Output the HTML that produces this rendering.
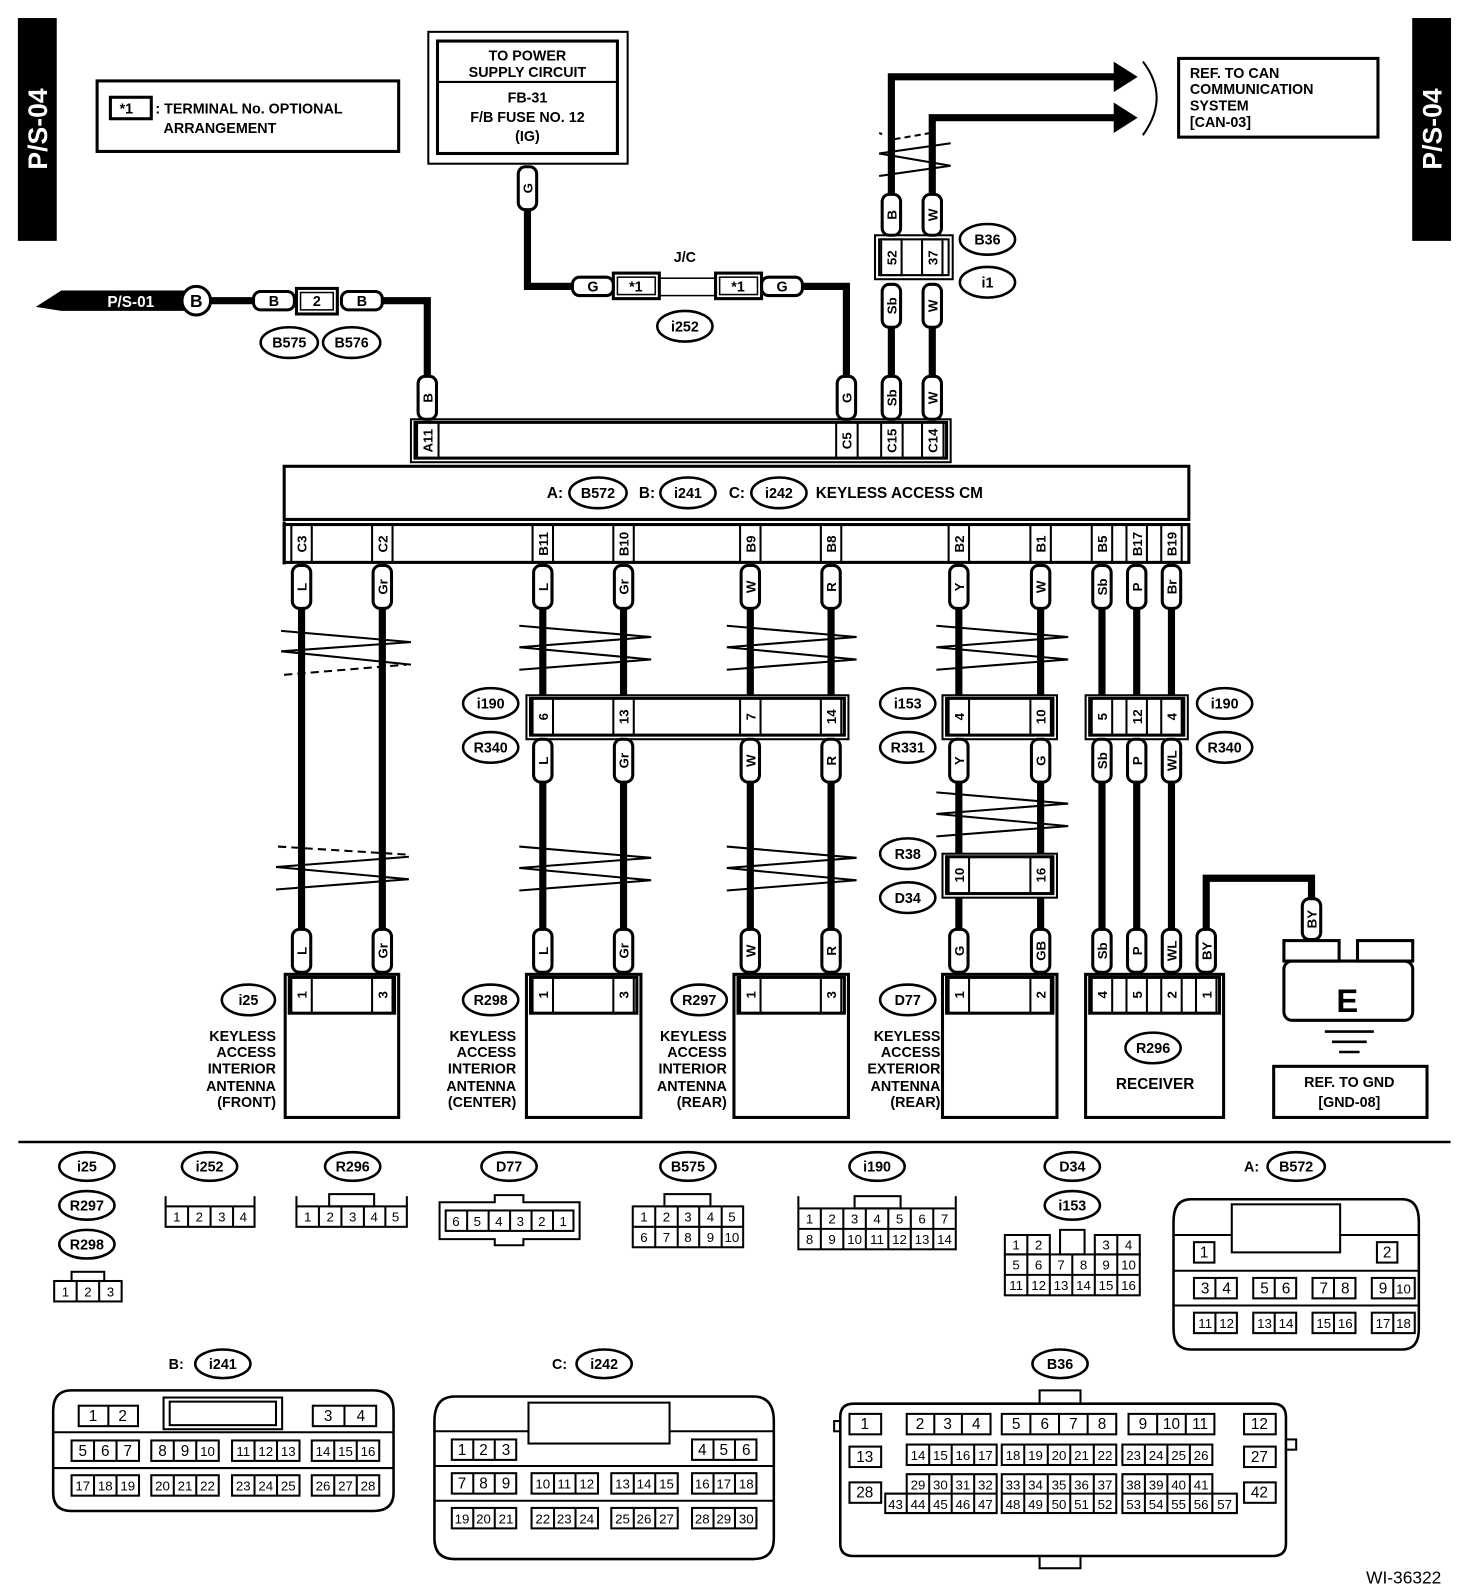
<!DOCTYPE html>
<html><head><meta charset="utf-8"><style>
html,body{margin:0;padding:0;background:#fff}
svg{display:block}
text{font-family:"Liberation Sans",Arial,sans-serif;fill:#000}
.b{font-weight:bold}
.t{font-weight:bold;font-size:14px}
.n{font-size:13px}
</style></head><body>
<svg width="1472" height="1596" viewBox="0 0 1440 1561" xmlns="http://www.w3.org/2000/svg">
<g fill="none" stroke="#000">
<!-- side bars -->
<rect x="18" y="18" width="37" height="217" fill="#000"/>
<rect x="1382" y="18" width="37" height="217" fill="#000"/>
</g>
<text class="b" font-size="26" transform="translate(46,126) rotate(-90)" text-anchor="middle" style="fill:#fff">P/S-04</text>
<text class="b" font-size="26" transform="translate(1410,126) rotate(-90)" text-anchor="middle" style="fill:#fff">P/S-04</text>

<g fill="none" stroke="#000">
<!-- legend -->
<rect x="95" y="79" width="295" height="69" stroke-width="3"/>
<rect x="108" y="95" width="40" height="21" stroke-width="3"/>
<!-- power box -->
<rect x="419" y="31" width="195" height="129" stroke-width="2"/>
<rect x="428" y="40" width="176" height="110" stroke-width="3"/>
<line x1="428" y1="80" x2="604" y2="80" stroke-width="2"/>
<!-- CAN box -->
<rect x="1153" y="57" width="195" height="77" stroke-width="3"/>
<path d="M1118,60 Q1145,95 1118,132" stroke-width="2"/>
<!-- wires -->
<g stroke-width="7" stroke-linejoin="miter">
<polyline points="516,200 516,280 562,280"/>
<polyline points="784,280 828,280 828,372"/>
<polyline points="205,294 250,294"/>
<polyline points="374,294 418,294 418,372"/>
<polyline points="872,192 872,75 1092,75"/>
<polyline points="912,192 912,115 1092,115"/>
<line x1="872" y1="318" x2="872" y2="372"/>
<line x1="912" y1="318" x2="912" y2="372"/>
<line x1="295" y1="592" x2="295" y2="912"/>
<line x1="374" y1="592" x2="374" y2="912"/>
<line x1="531" y1="592" x2="531" y2="682"/><line x1="531" y1="762" x2="531" y2="912"/>
<line x1="610" y1="592" x2="610" y2="682"/><line x1="610" y1="762" x2="610" y2="912"/>
<line x1="734" y1="592" x2="734" y2="682"/><line x1="734" y1="762" x2="734" y2="912"/>
<line x1="813" y1="592" x2="813" y2="682"/><line x1="813" y1="762" x2="813" y2="912"/>
<line x1="938" y1="592" x2="938" y2="682"/><line x1="938" y1="762" x2="938" y2="837"/><line x1="938" y1="875" x2="938" y2="912"/>
<line x1="1018" y1="592" x2="1018" y2="682"/><line x1="1018" y1="762" x2="1018" y2="837"/><line x1="1018" y1="875" x2="1018" y2="912"/>
<line x1="1078" y1="592" x2="1078" y2="682"/><line x1="1078" y1="762" x2="1078" y2="912"/>
<line x1="1112" y1="592" x2="1112" y2="682"/><line x1="1112" y1="762" x2="1112" y2="912"/>
<line x1="1146" y1="592" x2="1146" y2="682"/><line x1="1146" y1="762" x2="1146" y2="912"/>
<polyline points="1180,912 1180,859 1283,859 1283,882"/>
</g>
<polygon points="1090,61 1112,75 1090,89" fill="#000"/>
<polygon points="1090,101 1112,115 1090,129" fill="#000"/>
<!-- P/S-01 arrow -->
<polygon points="35,300 60,284 180,284 180,304 60,304" fill="#000" stroke="none"/>
<circle cx="192" cy="294" r="14" stroke-width="3" fill="#fff"/>
<!-- twists -->
<g stroke-width="2">
<path d="M860,150 L930,140 M860,150 L930,162 M860,172 L930,162"/>
<path d="M860,130 L863,131 M875,136 L910,130" stroke-dasharray="6,4"/>
<path d="M275,617 L402,628 M275,637 L402,628 M275,637 L402,650"/>
<path d="M278,660 L398,650" stroke-dasharray="8,5"/>
<path d="M270,848 L400,838 M270,848 L400,860 M270,870 L400,860"/>
<path d="M272,828 L400,836" stroke-dasharray="8,5"/>
<path d="M508,612 L637,623 M508,633 L637,623 M508,633 L637,645 M508,655 L637,645"/>
<path d="M711,612 L838,623 M711,633 L838,623 M711,633 L838,645 M711,655 L838,645"/>
<path d="M916,612 L1045,623 M916,633 L1045,623 M916,633 L1045,645 M916,655 L1045,645"/>
<path d="M508,828 L637,839 M508,849 L637,839 M508,849 L637,861 M508,871 L637,861"/>
<path d="M711,828 L838,839 M711,849 L838,839 M711,849 L838,861 M711,871 L838,861"/>
<path d="M916,775 L1045,786 M916,796 L1045,786 M916,796 L1045,808 M916,818 L1045,808"/>
</g>
<!-- J/C & small connectors -->
<rect x="600" y="267" width="45" height="25" stroke-width="3" fill="#fff"/>
<rect x="604" y="271" width="37" height="17" stroke-width="1.5"/>
<rect x="645" y="272" width="55" height="17" stroke-width="1.5"/>
<rect x="700" y="267" width="45" height="25" stroke-width="3" fill="#fff"/>
<rect x="704" y="271" width="37" height="17" stroke-width="1.5"/>
<rect x="290" y="282" width="40" height="25" stroke-width="3" fill="#fff"/>
<rect x="294" y="286" width="32" height="17" stroke-width="1.5"/>
<!-- B36 connector -->
<rect x="856" y="230" width="76" height="43" stroke-width="2" fill="#fff"/>
<rect x="860" y="234" width="68" height="35" stroke-width="2"/>
<rect x="862" y="234" width="20" height="35" stroke-width="2"/>
<rect x="902" y="234" width="20" height="35" stroke-width="2"/>
<!-- top strip -->
<rect x="402" y="410" width="528" height="42" stroke-width="2" fill="#fff"/>
<rect x="406" y="413" width="520" height="35" stroke-width="3"/>
<rect x="408" y="413" width="21" height="35" stroke-width="2"/>
<rect x="818" y="413" width="21" height="35" stroke-width="2"/>
<rect x="862" y="413" width="21" height="35" stroke-width="2"/>
<rect x="902" y="413" width="21" height="35" stroke-width="2"/>
<!-- CM box -->
<rect x="278" y="456" width="885" height="52" stroke-width="3" fill="#fff"/>
<rect x="278" y="513" width="885" height="37" stroke-width="3" fill="#fff"/>
<line x1="278" y1="510" x2="278" y2="552" stroke-width="3"/>
<g stroke-width="2">
<rect x="285" y="513" width="20" height="37"/><rect x="364" y="513" width="20" height="37"/>
<rect x="521" y="513" width="20" height="37"/><rect x="600" y="513" width="20" height="37"/>
<rect x="724" y="513" width="20" height="37"/><rect x="803" y="513" width="20" height="37"/>
<rect x="928" y="513" width="20" height="37"/><rect x="1008" y="513" width="20" height="37"/>
<rect x="1068" y="513" width="20" height="37"/><rect x="1102" y="513" width="20" height="37"/><rect x="1136" y="513" width="20" height="37"/>
</g>
<!-- mid connectors -->
<rect x="515" y="680" width="315" height="43" stroke-width="2" fill="#fff"/>
<rect x="519" y="683" width="307" height="36" stroke-width="3"/>
<rect x="922" y="680" width="112" height="43" stroke-width="2" fill="#fff"/>
<rect x="926" y="683" width="104" height="36" stroke-width="3"/>
<rect x="1062" y="680" width="100" height="43" stroke-width="2" fill="#fff"/>
<rect x="1066" y="683" width="92" height="36" stroke-width="3"/>
<rect x="922" y="835" width="112" height="43" stroke-width="2" fill="#fff"/>
<rect x="926" y="838" width="104" height="36" stroke-width="3"/>
<g stroke-width="2">
<rect x="521" y="683" width="20" height="36"/><rect x="600" y="683" width="20" height="36"/><rect x="724" y="683" width="20" height="36"/><rect x="803" y="683" width="20" height="36"/>
<rect x="928" y="683" width="20" height="36"/><rect x="1008" y="683" width="20" height="36"/>
<rect x="1068" y="683" width="20" height="36"/><rect x="1102" y="683" width="20" height="36"/><rect x="1136" y="683" width="20" height="36"/>
<rect x="928" y="838" width="20" height="36"/><rect x="1008" y="838" width="20" height="36"/>
</g>
<!-- devices -->
<g stroke-width="3" fill="#fff">
<rect x="279" y="953" width="111" height="140"/><rect x="515" y="953" width="112" height="140"/>
<rect x="718" y="953" width="112" height="140"/><rect x="922" y="953" width="112" height="140"/>
<rect x="1062" y="953" width="135" height="140"/>
</g>
<g stroke-width="3">
<rect x="283" y="956" width="103" height="35"/><rect x="519" y="956" width="104" height="35"/>
<rect x="722" y="956" width="104" height="35"/><rect x="926" y="956" width="104" height="35"/>
<rect x="1066" y="956" width="127" height="35"/>
</g>
<g stroke-width="2">
<rect x="285" y="956" width="20" height="35"/><rect x="364" y="956" width="20" height="35"/>
<rect x="521" y="956" width="20" height="35"/><rect x="600" y="956" width="20" height="35"/>
<rect x="724" y="956" width="20" height="35"/><rect x="803" y="956" width="20" height="35"/>
<rect x="928" y="956" width="20" height="35"/><rect x="1008" y="956" width="20" height="35"/>
<rect x="1068" y="956" width="20" height="35"/><rect x="1102" y="956" width="20" height="35"/><rect x="1136" y="956" width="20" height="35"/><rect x="1170" y="956" width="20" height="35"/>
</g>
<!-- ground -->
<rect x="1256" y="920" width="54" height="20" stroke-width="3"/>
<rect x="1328" y="920" width="54" height="20" stroke-width="3"/>
<rect x="1256" y="940" width="126" height="58" rx="8" stroke-width="3"/>
<g stroke-width="2.5"><line x1="1296" y1="1009" x2="1344" y2="1009"/><line x1="1303" y1="1019" x2="1337" y2="1019"/><line x1="1310" y1="1029" x2="1330" y2="1029"/></g>
<rect x="1246" y="1043" width="150" height="50" stroke-width="3"/>
<line x1="18" y1="1117" x2="1419" y2="1117" stroke-width="2.5"/>

<!-- pills vertical -->
<g stroke-width="3" fill="#fff">
<rect x="507" y="163" width="18" height="42" rx="7"/>
<rect x="863" y="190" width="18" height="40" rx="7"/><rect x="903" y="190" width="18" height="40" rx="7"/>
<rect x="863" y="278" width="18" height="42" rx="7"/><rect x="903" y="278" width="18" height="42" rx="7"/>
<rect x="409" y="368" width="18" height="42" rx="7"/><rect x="819" y="368" width="18" height="42" rx="7"/>
<rect x="863" y="368" width="18" height="42" rx="7"/><rect x="903" y="368" width="18" height="42" rx="7"/>
<!-- under CM -->
<rect x="286" y="553" width="18" height="42" rx="7"/><rect x="365" y="553" width="18" height="42" rx="7"/>
<rect x="522" y="553" width="18" height="42" rx="7"/><rect x="601" y="553" width="18" height="42" rx="7"/>
<rect x="725" y="553" width="18" height="42" rx="7"/><rect x="804" y="553" width="18" height="42" rx="7"/>
<rect x="929" y="553" width="18" height="42" rx="7"/><rect x="1009" y="553" width="18" height="42" rx="7"/>
<rect x="1069" y="553" width="18" height="42" rx="7"/><rect x="1103" y="553" width="18" height="42" rx="7"/><rect x="1137" y="553" width="18" height="42" rx="7"/>
<!-- under mid -->
<rect x="522" y="723" width="18" height="42" rx="7"/><rect x="601" y="723" width="18" height="42" rx="7"/>
<rect x="725" y="723" width="18" height="42" rx="7"/><rect x="804" y="723" width="18" height="42" rx="7"/>
<rect x="929" y="723" width="18" height="42" rx="7"/><rect x="1009" y="723" width="18" height="42" rx="7"/>
<rect x="1069" y="723" width="18" height="42" rx="7"/><rect x="1103" y="723" width="18" height="42" rx="7"/><rect x="1137" y="723" width="18" height="42" rx="7"/>
<!-- bottom -->
<rect x="286" y="909" width="18" height="42" rx="7"/><rect x="365" y="909" width="18" height="42" rx="7"/>
<rect x="522" y="909" width="18" height="42" rx="7"/><rect x="601" y="909" width="18" height="42" rx="7"/>
<rect x="725" y="909" width="18" height="42" rx="7"/><rect x="804" y="909" width="18" height="42" rx="7"/>
<rect x="929" y="909" width="18" height="42" rx="7"/><rect x="1009" y="909" width="18" height="42" rx="7"/>
<rect x="1069" y="909" width="18" height="42" rx="7"/><rect x="1103" y="909" width="18" height="42" rx="7"/><rect x="1137" y="909" width="18" height="42" rx="7"/><rect x="1171" y="909" width="18" height="42" rx="7"/>
<rect x="1274" y="879" width="18" height="40" rx="7"/>
<!-- horizontal pills -->
<rect x="560" y="271" width="40" height="18" rx="7"/><rect x="745" y="271" width="40" height="18" rx="7"/>
<rect x="248" y="285" width="40" height="18" rx="7"/><rect x="334" y="285" width="40" height="18" rx="7"/>
</g>
<!-- ovals -->
<g stroke-width="2.5" fill="#fff">
<ellipse cx="670" cy="319" rx="27" ry="15"/>
<ellipse cx="283" cy="335" rx="28" ry="15"/><ellipse cx="344" cy="335" rx="28" ry="15"/>
<ellipse cx="966" cy="234" rx="27" ry="15"/><ellipse cx="966" cy="276" rx="27" ry="15"/>
<ellipse cx="585" cy="482" rx="28" ry="15"/><ellipse cx="673" cy="482" rx="27" ry="15"/><ellipse cx="762" cy="482" rx="27" ry="15"/>
<ellipse cx="480" cy="688" rx="27" ry="15"/><ellipse cx="480" cy="731" rx="27" ry="15"/>
<ellipse cx="888" cy="688" rx="27" ry="15"/><ellipse cx="888" cy="731" rx="27" ry="15"/>
<ellipse cx="1198" cy="688" rx="27" ry="15"/><ellipse cx="1198" cy="731" rx="27" ry="15"/>
<ellipse cx="888" cy="835" rx="27" ry="15"/><ellipse cx="888" cy="878" rx="27" ry="15"/>
<ellipse cx="243" cy="978" rx="26" ry="15"/><ellipse cx="480" cy="978" rx="27" ry="15"/>
<ellipse cx="684" cy="978" rx="27" ry="15"/><ellipse cx="888" cy="978" rx="27" ry="15"/>
<ellipse cx="1128" cy="1025" rx="27" ry="15"/>
<!-- bottom ovals -->
<ellipse cx="85" cy="1141" rx="27" ry="14"/><ellipse cx="85" cy="1179" rx="27" ry="14"/><ellipse cx="85" cy="1217" rx="27" ry="14"/>
<ellipse cx="205" cy="1141" rx="27" ry="14"/><ellipse cx="345" cy="1141" rx="27" ry="14"/>
<ellipse cx="498" cy="1141" rx="27" ry="14"/><ellipse cx="673" cy="1141" rx="27" ry="14"/>
<ellipse cx="858" cy="1141" rx="27" ry="14"/><ellipse cx="1049" cy="1141" rx="27" ry="14"/><ellipse cx="1049" cy="1179" rx="27" ry="14"/>
<ellipse cx="1268" cy="1141" rx="28" ry="14"/>
<ellipse cx="218" cy="1334" rx="27" ry="14"/><ellipse cx="591" cy="1334" rx="27" ry="14"/><ellipse cx="1037" cy="1334" rx="27" ry="14"/>
</g>
</g>

<!-- top texts -->
<text class="t" x="117" y="111">*1</text>
<text class="t" x="152" y="111">: TERMINAL No. OPTIONAL</text>
<text class="t" x="160" y="130">ARRANGEMENT</text>
<g class="t" text-anchor="middle">
<text x="516" y="59">TO POWER</text><text x="516" y="75">SUPPLY CIRCUIT</text>
<text x="516" y="100">FB-31</text><text x="516" y="119">F/B FUSE NO. 12</text><text x="516" y="138">(IG)</text>
<text x="670" y="256">J/C</text>
<text x="580" y="285">G</text><text x="765" y="285">G</text>
<text x="622" y="285">*1</text><text x="722" y="285">*1</text>
<text x="268" y="299">B</text><text x="310" y="299">2</text><text x="354" y="299">B</text>
<text x="192" y="300" font-size="17">B</text>
<text x="670" y="324">i252</text>
<text x="283" y="340">B575</text><text x="344" y="340">B576</text>
<text x="966" y="239">B36</text><text x="966" y="281">i1</text>
<text x="585" y="487">B572</text><text x="673" y="487">i241</text><text x="762" y="487">i242</text>
<text x="480" y="693">i190</text><text x="480" y="736">R340</text>
<text x="888" y="693">i153</text><text x="888" y="736">R331</text>
<text x="1198" y="693">i190</text><text x="1198" y="736">R340</text>
<text x="888" y="840">R38</text><text x="888" y="883">D34</text>
<text x="243" y="983">i25</text><text x="480" y="983">R298</text><text x="684" y="983">R297</text><text x="888" y="983">D77</text>
<text x="1128" y="1030">R296</text>
<text x="1130" y="1065" font-size="15">RECEIVER</text>
<text x="1320" y="1063">REF. TO GND</text><text x="1320" y="1083">[GND-08]</text>
<text x="1318" y="990" font-size="32">E</text>
</g>
<text class="b" x="105" y="300" font-size="15" style="fill:#fff">P/S-01</text>
<g class="t"><text x="1164" y="76">REF. TO CAN</text><text x="1164" y="92">COMMUNICATION</text><text x="1164" y="108">SYSTEM</text><text x="1164" y="124">[CAN-03]</text></g>
<g class="b" font-size="15"><text x="535" y="487">A:</text><text x="625" y="487">B:</text><text x="713" y="487">C:</text><text x="798" y="487">KEYLESS ACCESS CM</text></g>
<g class="t" text-anchor="end">
<text x="270" y="1018">KEYLESS</text><text x="270" y="1034">ACCESS</text><text x="270" y="1050">INTERIOR</text><text x="270" y="1067">ANTENNA</text><text x="270" y="1083">(FRONT)</text>
<text x="505" y="1018">KEYLESS</text><text x="505" y="1034">ACCESS</text><text x="505" y="1050">INTERIOR</text><text x="505" y="1067">ANTENNA</text><text x="505" y="1083">(CENTER)</text>
<text x="711" y="1018">KEYLESS</text><text x="711" y="1034">ACCESS</text><text x="711" y="1050">INTERIOR</text><text x="711" y="1067">ANTENNA</text><text x="711" y="1083">(REAR)</text>
<text x="920" y="1018">KEYLESS</text><text x="920" y="1034">ACCESS</text><text x="920" y="1050">EXTERIOR</text><text x="920" y="1067">ANTENNA</text><text x="920" y="1083">(REAR)</text>
</g>
<!-- rotated labels -->
<g class="b" font-size="13" text-anchor="middle">
<text transform="translate(521,184) rotate(-90)">G</text>
<text transform="translate(877,210) rotate(-90)">B</text><text transform="translate(917,210) rotate(-90)">W</text>
<text transform="translate(877,252) rotate(-90)">52</text><text transform="translate(917,252) rotate(-90)">37</text>
<text transform="translate(877,299) rotate(-90)">Sb</text><text transform="translate(917,299) rotate(-90)">W</text>
<text transform="translate(423,389) rotate(-90)">B</text><text transform="translate(833,389) rotate(-90)">G</text>
<text transform="translate(877,389) rotate(-90)">Sb</text><text transform="translate(917,389) rotate(-90)">W</text>
<text transform="translate(423,431) rotate(-90)">A11</text><text transform="translate(833,431) rotate(-90)">C5</text>
<text transform="translate(877,431) rotate(-90)">C15</text><text transform="translate(917,431) rotate(-90)">C14</text>
<text transform="translate(300,532) rotate(-90)">C3</text><text transform="translate(379,532) rotate(-90)">C2</text>
<text transform="translate(536,532) rotate(-90)">B11</text><text transform="translate(615,532) rotate(-90)">B10</text>
<text transform="translate(739,532) rotate(-90)">B9</text><text transform="translate(818,532) rotate(-90)">B8</text>
<text transform="translate(943,532) rotate(-90)">B2</text><text transform="translate(1023,532) rotate(-90)">B1</text>
<text transform="translate(1083,532) rotate(-90)">B5</text><text transform="translate(1117,532) rotate(-90)">B17</text><text transform="translate(1151,532) rotate(-90)">B19</text>
<text transform="translate(300,574) rotate(-90)">L</text><text transform="translate(379,574) rotate(-90)">Gr</text>
<text transform="translate(536,574) rotate(-90)">L</text><text transform="translate(615,574) rotate(-90)">Gr</text>
<text transform="translate(739,574) rotate(-90)">W</text><text transform="translate(818,574) rotate(-90)">R</text>
<text transform="translate(943,574) rotate(-90)">Y</text><text transform="translate(1023,574) rotate(-90)">W</text>
<text transform="translate(1083,574) rotate(-90)">Sb</text><text transform="translate(1117,574) rotate(-90)">P</text><text transform="translate(1151,574) rotate(-90)">Br</text>
<text transform="translate(536,701) rotate(-90)">6</text><text transform="translate(615,701) rotate(-90)">13</text>
<text transform="translate(739,701) rotate(-90)">7</text><text transform="translate(818,701) rotate(-90)">14</text>
<text transform="translate(943,701) rotate(-90)">4</text><text transform="translate(1023,701) rotate(-90)">10</text>
<text transform="translate(1083,701) rotate(-90)">5</text><text transform="translate(1117,701) rotate(-90)">12</text><text transform="translate(1151,701) rotate(-90)">4</text>
<text transform="translate(536,744) rotate(-90)">L</text><text transform="translate(615,744) rotate(-90)">Gr</text>
<text transform="translate(739,744) rotate(-90)">W</text><text transform="translate(818,744) rotate(-90)">R</text>
<text transform="translate(943,744) rotate(-90)">Y</text><text transform="translate(1023,744) rotate(-90)">G</text>
<text transform="translate(1083,744) rotate(-90)">Sb</text><text transform="translate(1117,744) rotate(-90)">P</text><text transform="translate(1151,744) rotate(-90)">WL</text>
<text transform="translate(943,856) rotate(-90)">10</text><text transform="translate(1023,856) rotate(-90)">16</text>
<text transform="translate(300,930) rotate(-90)">L</text><text transform="translate(379,930) rotate(-90)">Gr</text>
<text transform="translate(536,930) rotate(-90)">L</text><text transform="translate(615,930) rotate(-90)">Gr</text>
<text transform="translate(739,930) rotate(-90)">W</text><text transform="translate(818,930) rotate(-90)">R</text>
<text transform="translate(943,930) rotate(-90)">G</text><text transform="translate(1023,930) rotate(-90)">GB</text>
<text transform="translate(1083,930) rotate(-90)">Sb</text><text transform="translate(1117,930) rotate(-90)">P</text><text transform="translate(1151,930) rotate(-90)">WL</text><text transform="translate(1185,930) rotate(-90)">BY</text>
<text transform="translate(1288,899) rotate(-90)">BY</text>
<text transform="translate(300,973) rotate(-90)">1</text><text transform="translate(379,973) rotate(-90)">3</text>
<text transform="translate(536,973) rotate(-90)">1</text><text transform="translate(615,973) rotate(-90)">3</text>
<text transform="translate(739,973) rotate(-90)">1</text><text transform="translate(818,973) rotate(-90)">3</text>
<text transform="translate(943,973) rotate(-90)">1</text><text transform="translate(1023,973) rotate(-90)">2</text>
<text transform="translate(1083,973) rotate(-90)">4</text><text transform="translate(1117,973) rotate(-90)">5</text><text transform="translate(1151,973) rotate(-90)">2</text><text transform="translate(1185,973) rotate(-90)">1</text>
</g>

<!-- bottom connectors -->
<g class="t" text-anchor="middle">
<text x="85" y="1146">i25</text><text x="85" y="1184">R297</text><text x="85" y="1222">R298</text>
<text x="205" y="1146">i252</text><text x="345" y="1146">R296</text><text x="498" y="1146">D77</text>
<text x="673" y="1146">B575</text><text x="858" y="1146">i190</text><text x="1049" y="1146">D34</text><text x="1049" y="1184">i153</text>
<text x="1268" y="1146">B572</text><text x="218" y="1339">i241</text><text x="591" y="1339">i242</text><text x="1037" y="1339">B36</text>
</g>
<g class="t"><text x="1217" y="1146">A:</text><text x="165" y="1339">B:</text><text x="540" y="1339">C:</text></g>

<g fill="none" stroke="#000" stroke-width="2">
<!-- i25 -->
<rect x="70" y="1244" width="32" height="9"/>
<rect x="53" y="1253" width="66" height="20"/><line x1="75" y1="1253" x2="75" y2="1273"/><line x1="97" y1="1253" x2="97" y2="1273"/>
<!-- i252 -->
<rect x="162" y="1180" width="87" height="20"/><line x1="184" y1="1180" x2="184" y2="1200"/><line x1="206" y1="1180" x2="206" y2="1200"/><line x1="228" y1="1180" x2="228" y2="1200"/>
<line x1="162" y1="1170" x2="162" y2="1180"/><line x1="249" y1="1170" x2="249" y2="1180"/>
<!-- R296 -->
<rect x="290" y="1180" width="108" height="20"/><line x1="312" y1="1180" x2="312" y2="1200"/><line x1="334" y1="1180" x2="334" y2="1200"/><line x1="356" y1="1180" x2="356" y2="1200"/><line x1="377" y1="1180" x2="377" y2="1200"/>
<rect x="322" y="1168" width="44" height="12"/><line x1="290" y1="1170" x2="290" y2="1180"/><line x1="398" y1="1170" x2="398" y2="1180"/>
<!-- D77 -->
<path d="M430,1176 L484,1176 L484,1169 L512,1169 L512,1176 L567,1176 L567,1212 L512,1212 L512,1218 L484,1218 L484,1212 L430,1212 Z"/>
<rect x="436" y="1184" width="125" height="20"/><line x1="457" y1="1184" x2="457" y2="1204"/><line x1="478" y1="1184" x2="478" y2="1204"/><line x1="499" y1="1184" x2="499" y2="1204"/><line x1="520" y1="1184" x2="520" y2="1204"/><line x1="541" y1="1184" x2="541" y2="1204"/>
<!-- B575 -->
<rect x="650" y="1168" width="45" height="12"/>
<rect x="619" y="1180" width="108" height="40"/><line x1="619" y1="1200" x2="727" y2="1200"/>
<line x1="641" y1="1180" x2="641" y2="1220"/><line x1="663" y1="1180" x2="663" y2="1220"/><line x1="684" y1="1180" x2="684" y2="1220"/><line x1="706" y1="1180" x2="706" y2="1220"/>
<!-- i190 -->
<rect x="836" y="1170" width="45" height="12"/><line x1="781" y1="1170" x2="781" y2="1182"/><line x1="935" y1="1170" x2="935" y2="1182"/>
<rect x="781" y="1182" width="154" height="40"/><line x1="781" y1="1202" x2="935" y2="1202"/>
<line x1="803" y1="1182" x2="803" y2="1222"/><line x1="825" y1="1182" x2="825" y2="1222"/><line x1="847" y1="1182" x2="847" y2="1222"/><line x1="869" y1="1182" x2="869" y2="1222"/><line x1="891" y1="1182" x2="891" y2="1222"/><line x1="913" y1="1182" x2="913" y2="1222"/>
<!-- D34 -->
<path d="M983,1208 L1027,1208 L1027,1227 L983,1227 Z M1037,1203 L1061,1203 L1061,1227 L1037,1227 Z M1071,1208 L1115,1208 L1115,1227 L1071,1227 Z"/>
<line x1="1005" y1="1208" x2="1005" y2="1267"/><line x1="1093" y1="1208" x2="1093" y2="1267"/>
<rect x="983" y="1227" width="132" height="40"/><line x1="983" y1="1247" x2="1115" y2="1247"/>
<line x1="1027" y1="1227" x2="1027" y2="1267"/><line x1="1049" y1="1227" x2="1049" y2="1267"/><line x1="1071" y1="1227" x2="1071" y2="1267"/>
<!-- B572 -->
<path d="M1165,1173 L1372,1173 Q1388,1173 1388,1195 L1388,1300 Q1388,1320 1372,1320 L1165,1320 Q1148,1320 1148,1300 L1148,1195 Q1148,1173 1165,1173 Z" stroke-width="2.5"/>
<rect x="1205" y="1178" width="106" height="47"/>
<line x1="1148" y1="1208" x2="1205" y2="1208"/><line x1="1311" y1="1208" x2="1388" y2="1208"/>
<line x1="1148" y1="1243" x2="1388" y2="1243"/><line x1="1148" y1="1277" x2="1388" y2="1277"/>
<rect x="1168" y="1215" width="20" height="20"/><rect x="1347" y="1215" width="20" height="20"/>
<rect x="1168" y="1250" width="42" height="20"/><line x1="1189" y1="1250" x2="1189" y2="1270"/>
<rect x="1226" y="1250" width="42" height="20"/><line x1="1247" y1="1250" x2="1247" y2="1270"/>
<rect x="1284" y="1250" width="42" height="20"/><line x1="1305" y1="1250" x2="1305" y2="1270"/>
<rect x="1326" y="1250" width="42" height="20" transform="translate(16,0)"/><line x1="1363" y1="1250" x2="1363" y2="1270"/>
<rect x="1168" y="1284" width="42" height="20"/><line x1="1189" y1="1284" x2="1189" y2="1304"/>
<rect x="1226" y="1284" width="42" height="20"/><line x1="1247" y1="1284" x2="1247" y2="1304"/>
<rect x="1284" y="1284" width="42" height="20"/><line x1="1305" y1="1284" x2="1305" y2="1304"/>
<rect x="1342" y="1284" width="42" height="20"/><line x1="1363" y1="1284" x2="1363" y2="1304"/>
<!-- i241 -->
<path d="M70,1360 L365,1360 Q385,1360 385,1380 L385,1460 Q385,1478 365,1478 L70,1478 Q52,1478 52,1460 L52,1380 Q52,1360 70,1360 Z" stroke-width="2.5"/>
<rect x="160" y="1367" width="116" height="31"/><rect x="166" y="1371" width="104" height="23"/>
<line x1="52" y1="1401" x2="385" y2="1401"/><line x1="52" y1="1436" x2="385" y2="1436"/>
<rect x="77" y="1375" width="58" height="20"/><line x1="106" y1="1375" x2="106" y2="1395"/>
<rect x="306" y="1375" width="62" height="20"/><line x1="337" y1="1375" x2="337" y2="1395"/>
<rect x="70" y="1409" width="66" height="20"/><line x1="92" y1="1409" x2="92" y2="1429"/><line x1="114" y1="1409" x2="114" y2="1429"/>
<rect x="148" y="1409" width="66" height="20"/><line x1="170" y1="1409" x2="170" y2="1429"/><line x1="192" y1="1409" x2="192" y2="1429"/>
<rect x="227" y="1409" width="66" height="20"/><line x1="249" y1="1409" x2="249" y2="1429"/><line x1="271" y1="1409" x2="271" y2="1429"/>
<rect x="305" y="1409" width="66" height="20"/><line x1="327" y1="1409" x2="327" y2="1429"/><line x1="349" y1="1409" x2="349" y2="1429"/>
<rect x="70" y="1443" width="66" height="20"/><line x1="92" y1="1443" x2="92" y2="1463"/><line x1="114" y1="1443" x2="114" y2="1463"/>
<rect x="148" y="1443" width="66" height="20"/><line x1="170" y1="1443" x2="170" y2="1463"/><line x1="192" y1="1443" x2="192" y2="1463"/>
<rect x="227" y="1443" width="66" height="20"/><line x1="249" y1="1443" x2="249" y2="1463"/><line x1="271" y1="1443" x2="271" y2="1463"/>
<rect x="305" y="1443" width="66" height="20"/><line x1="327" y1="1443" x2="327" y2="1463"/><line x1="349" y1="1443" x2="349" y2="1463"/>
<!-- i242 -->
<path d="M445,1366 L737,1366 Q757,1366 757,1390 L757,1505 Q757,1525 737,1525 L445,1525 Q425,1525 425,1505 L425,1390 Q425,1366 445,1366 Z" stroke-width="2.5"/>
<rect x="517" y="1372" width="138" height="40"/>
<line x1="425" y1="1400" x2="517" y2="1400"/><line x1="655" y1="1400" x2="757" y2="1400"/>
<line x1="425" y1="1434" x2="757" y2="1434"/><line x1="425" y1="1468" x2="757" y2="1468"/>
<rect x="442" y="1408" width="63" height="20"/><line x1="463" y1="1408" x2="463" y2="1428"/><line x1="484" y1="1408" x2="484" y2="1428"/>
<rect x="677" y="1408" width="63" height="20"/><line x1="698" y1="1408" x2="698" y2="1428"/><line x1="719" y1="1408" x2="719" y2="1428"/>
<rect x="442" y="1441" width="63" height="20"/><line x1="463" y1="1441" x2="463" y2="1461"/><line x1="484" y1="1441" x2="484" y2="1461"/>
<rect x="520" y="1441" width="65" height="20"/><line x1="542" y1="1441" x2="542" y2="1461"/><line x1="563" y1="1441" x2="563" y2="1461"/>
<rect x="598" y="1441" width="65" height="20"/><line x1="620" y1="1441" x2="620" y2="1461"/><line x1="641" y1="1441" x2="641" y2="1461"/>
<rect x="677" y="1441" width="63" height="20"/><line x1="698" y1="1441" x2="698" y2="1461"/><line x1="719" y1="1441" x2="719" y2="1461"/>
<rect x="442" y="1475" width="63" height="20"/><line x1="463" y1="1475" x2="463" y2="1495"/><line x1="484" y1="1475" x2="484" y2="1495"/>
<rect x="520" y="1475" width="65" height="20"/><line x1="542" y1="1475" x2="542" y2="1495"/><line x1="563" y1="1475" x2="563" y2="1495"/>
<rect x="598" y="1475" width="65" height="20"/><line x1="620" y1="1475" x2="620" y2="1495"/><line x1="641" y1="1475" x2="641" y2="1495"/>
<rect x="677" y="1475" width="63" height="20"/><line x1="698" y1="1475" x2="698" y2="1495"/><line x1="719" y1="1475" x2="719" y2="1495"/>
<!-- B36 -->
<path d="M835,1373 L1245,1373 Q1258,1373 1258,1386 L1258,1510 Q1258,1522 1245,1522 L835,1522 Q822,1522 822,1510 L822,1386 Q822,1373 835,1373 Z" stroke-width="2.5"/>
<rect x="1017" y="1360" width="40" height="13"/><rect x="1017" y="1522" width="40" height="12"/>
<rect x="816" y="1390" width="6" height="10"/><rect x="1258" y="1408" width="10" height="10"/>
<rect x="831" y="1383" width="31" height="20"/><rect x="831" y="1415" width="31" height="20"/><rect x="831" y="1450" width="31" height="20"/>
<rect x="1217" y="1383" width="31" height="20"/><rect x="1217" y="1415" width="31" height="20"/><rect x="1217" y="1450" width="31" height="20"/>
<rect x="887" y="1383" width="82" height="20"/><line x1="914" y1="1383" x2="914" y2="1403"/><line x1="941" y1="1383" x2="941" y2="1403"/>
<rect x="980" y="1383" width="112" height="20"/><line x1="1008" y1="1383" x2="1008" y2="1403"/><line x1="1036" y1="1383" x2="1036" y2="1403"/><line x1="1064" y1="1383" x2="1064" y2="1403"/>
<rect x="1104" y="1383" width="84" height="20"/><line x1="1132" y1="1383" x2="1132" y2="1403"/><line x1="1160" y1="1383" x2="1160" y2="1403"/>
<rect x="887" y="1413" width="88" height="20"/><line x1="909" y1="1413" x2="909" y2="1433"/><line x1="931" y1="1413" x2="931" y2="1433"/><line x1="953" y1="1413" x2="953" y2="1433"/>
<rect x="980" y="1413" width="112" height="20"/><line x1="1002" y1="1413" x2="1002" y2="1433"/><line x1="1025" y1="1413" x2="1025" y2="1433"/><line x1="1047" y1="1413" x2="1047" y2="1433"/><line x1="1070" y1="1413" x2="1070" y2="1433"/>
<rect x="1098" y="1413" width="88" height="20"/><line x1="1120" y1="1413" x2="1120" y2="1433"/><line x1="1142" y1="1413" x2="1142" y2="1433"/><line x1="1164" y1="1413" x2="1164" y2="1433"/>
<path d="M887,1461 L887,1442 L975,1442 L975,1480 L866,1480 L866,1461 Z"/><line x1="866" y1="1461" x2="975" y2="1461"/>
<line x1="909" y1="1442" x2="909" y2="1480"/><line x1="931" y1="1442" x2="931" y2="1480"/><line x1="953" y1="1442" x2="953" y2="1480"/><line x1="887" y1="1461" x2="887" y2="1480"/>
<rect x="980" y="1442" width="112" height="38"/><line x1="980" y1="1461" x2="1092" y2="1461"/>
<line x1="1002" y1="1442" x2="1002" y2="1480"/><line x1="1025" y1="1442" x2="1025" y2="1480"/><line x1="1047" y1="1442" x2="1047" y2="1480"/><line x1="1070" y1="1442" x2="1070" y2="1480"/>
<path d="M1098,1442 L1186,1442 L1186,1461 L1210,1461 L1210,1480 L1098,1480 Z"/><line x1="1098" y1="1461" x2="1186" y2="1461"/>
<line x1="1120" y1="1442" x2="1120" y2="1480"/><line x1="1142" y1="1442" x2="1142" y2="1480"/><line x1="1164" y1="1442" x2="1164" y2="1480"/><line x1="1186" y1="1461" x2="1186" y2="1480"/>
</g>

<g class="n" text-anchor="middle">
<text x="64" y="1268">1</text><text x="86" y="1268">2</text><text x="108" y="1268">3</text>
<text x="173" y="1195">1</text><text x="195" y="1195">2</text><text x="217" y="1195">3</text><text x="238" y="1195">4</text>
<text x="301" y="1195">1</text><text x="323" y="1195">2</text><text x="345" y="1195">3</text><text x="366" y="1195">4</text><text x="387" y="1195">5</text>
<text x="446" y="1199">6</text><text x="467" y="1199">5</text><text x="488" y="1199">4</text><text x="509" y="1199">3</text><text x="530" y="1199">2</text><text x="551" y="1199">1</text>
<text x="630" y="1195">1</text><text x="652" y="1195">2</text><text x="673" y="1195">3</text><text x="695" y="1195">4</text><text x="716" y="1195">5</text>
<text x="630" y="1215">6</text><text x="652" y="1215">7</text><text x="673" y="1215">8</text><text x="695" y="1215">9</text><text x="716" y="1215">10</text>
<text x="792" y="1197">1</text><text x="814" y="1197">2</text><text x="836" y="1197">3</text><text x="858" y="1197">4</text><text x="880" y="1197">5</text><text x="902" y="1197">6</text><text x="924" y="1197">7</text>
<text x="792" y="1217">8</text><text x="814" y="1217">9</text><text x="836" y="1217">10</text><text x="858" y="1217">11</text><text x="880" y="1217">12</text><text x="902" y="1217">13</text><text x="924" y="1217">14</text>
<text x="994" y="1222">1</text><text x="1016" y="1222">2</text><text x="1082" y="1222">3</text><text x="1104" y="1222">4</text>
<text x="994" y="1242">5</text><text x="1016" y="1242">6</text><text x="1038" y="1242">7</text><text x="1060" y="1242">8</text><text x="1082" y="1242">9</text><text x="1104" y="1242">10</text>
<text x="994" y="1262">11</text><text x="1016" y="1262">12</text><text x="1038" y="1262">13</text><text x="1060" y="1262">14</text><text x="1082" y="1262">15</text><text x="1104" y="1262">16</text>
<text x="1178" y="1230" font-size="15">1</text><text x="1357" y="1230" font-size="15">2</text>
<text x="1179" y="1265" font-size="15">3</text><text x="1200" y="1265" font-size="15">4</text><text x="1237" y="1265" font-size="15">5</text><text x="1258" y="1265" font-size="15">6</text><text x="1295" y="1265" font-size="15">7</text><text x="1316" y="1265" font-size="15">8</text><text x="1353" y="1265" font-size="15">9</text><text x="1373" y="1265">10</text>
<text x="1179" y="1299">11</text><text x="1200" y="1299">12</text><text x="1237" y="1299">13</text><text x="1258" y="1299">14</text><text x="1295" y="1299">15</text><text x="1316" y="1299">16</text><text x="1353" y="1299">17</text><text x="1373" y="1299">18</text>
<text x="91" y="1390" font-size="15">1</text><text x="120" y="1390" font-size="15">2</text><text x="321" y="1390" font-size="15">3</text><text x="353" y="1390" font-size="15">4</text>
<text x="81" y="1424" font-size="15">5</text><text x="103" y="1424" font-size="15">6</text><text x="125" y="1424" font-size="15">7</text>
<text x="159" y="1424" font-size="15">8</text><text x="181" y="1424" font-size="15">9</text><text x="203" y="1424">10</text>
<text x="238" y="1424">11</text><text x="260" y="1424">12</text><text x="282" y="1424">13</text>
<text x="316" y="1424">14</text><text x="338" y="1424">15</text><text x="360" y="1424">16</text>
<text x="81" y="1458">17</text><text x="103" y="1458">18</text><text x="125" y="1458">19</text>
<text x="159" y="1458">20</text><text x="181" y="1458">21</text><text x="203" y="1458">22</text>
<text x="238" y="1458">23</text><text x="260" y="1458">24</text><text x="282" y="1458">25</text>
<text x="316" y="1458">26</text><text x="338" y="1458">27</text><text x="360" y="1458">28</text>
<text x="452" y="1423" font-size="15">1</text><text x="473" y="1423" font-size="15">2</text><text x="495" y="1423" font-size="15">3</text>
<text x="687" y="1423" font-size="15">4</text><text x="708" y="1423" font-size="15">5</text><text x="730" y="1423" font-size="15">6</text>
<text x="452" y="1456" font-size="15">7</text><text x="473" y="1456" font-size="15">8</text><text x="495" y="1456" font-size="15">9</text>
<text x="531" y="1456">10</text><text x="552" y="1456">11</text><text x="574" y="1456">12</text>
<text x="609" y="1456">13</text><text x="630" y="1456">14</text><text x="652" y="1456">15</text>
<text x="687" y="1456">16</text><text x="708" y="1456">17</text><text x="730" y="1456">18</text>
<text x="452" y="1490">19</text><text x="473" y="1490">20</text><text x="495" y="1490">21</text>
<text x="531" y="1490">22</text><text x="552" y="1490">23</text><text x="574" y="1490">24</text>
<text x="609" y="1490">25</text><text x="630" y="1490">26</text><text x="652" y="1490">27</text>
<text x="687" y="1490">28</text><text x="708" y="1490">29</text><text x="730" y="1490">30</text>
<text x="846" y="1398" font-size="15">1</text><text x="846" y="1430" font-size="15">13</text><text x="846" y="1465" font-size="15">28</text>
<text x="1232" y="1398" font-size="15">12</text><text x="1232" y="1430" font-size="15">27</text><text x="1232" y="1465" font-size="15">42</text>
<text x="900" y="1398" font-size="15">2</text><text x="927" y="1398" font-size="15">3</text><text x="955" y="1398" font-size="15">4</text>
<text x="994" y="1398" font-size="15">5</text><text x="1022" y="1398" font-size="15">6</text><text x="1050" y="1398" font-size="15">7</text><text x="1078" y="1398" font-size="15">8</text>
<text x="1118" y="1398" font-size="15">9</text><text x="1146" y="1398" font-size="15">10</text><text x="1174" y="1398" font-size="15">11</text>
<text x="898" y="1428">14</text><text x="920" y="1428">15</text><text x="942" y="1428">16</text><text x="964" y="1428">17</text>
<text x="991" y="1428">18</text><text x="1013" y="1428">19</text><text x="1036" y="1428">20</text><text x="1058" y="1428">21</text><text x="1081" y="1428">22</text>
<text x="1109" y="1428">23</text><text x="1131" y="1428">24</text><text x="1153" y="1428">25</text><text x="1175" y="1428">26</text>
<text x="898" y="1457">29</text><text x="920" y="1457">30</text><text x="942" y="1457">31</text><text x="964" y="1457">32</text>
<text x="991" y="1457">33</text><text x="1013" y="1457">34</text><text x="1036" y="1457">35</text><text x="1058" y="1457">36</text><text x="1081" y="1457">37</text>
<text x="1109" y="1457">38</text><text x="1131" y="1457">39</text><text x="1153" y="1457">40</text><text x="1175" y="1457">41</text>
<text x="876" y="1476">43</text><text x="898" y="1476">44</text><text x="920" y="1476">45</text><text x="942" y="1476">46</text><text x="964" y="1476">47</text>
<text x="991" y="1476">48</text><text x="1013" y="1476">49</text><text x="1036" y="1476">50</text><text x="1058" y="1476">51</text><text x="1081" y="1476">52</text>
<text x="1109" y="1476">53</text><text x="1131" y="1476">54</text><text x="1153" y="1476">55</text><text x="1175" y="1476">56</text><text x="1198" y="1476">57</text>
</g>
<text x="1410" y="1549" font-size="17" text-anchor="end">WI-36322</text>
</svg>
</body></html>
